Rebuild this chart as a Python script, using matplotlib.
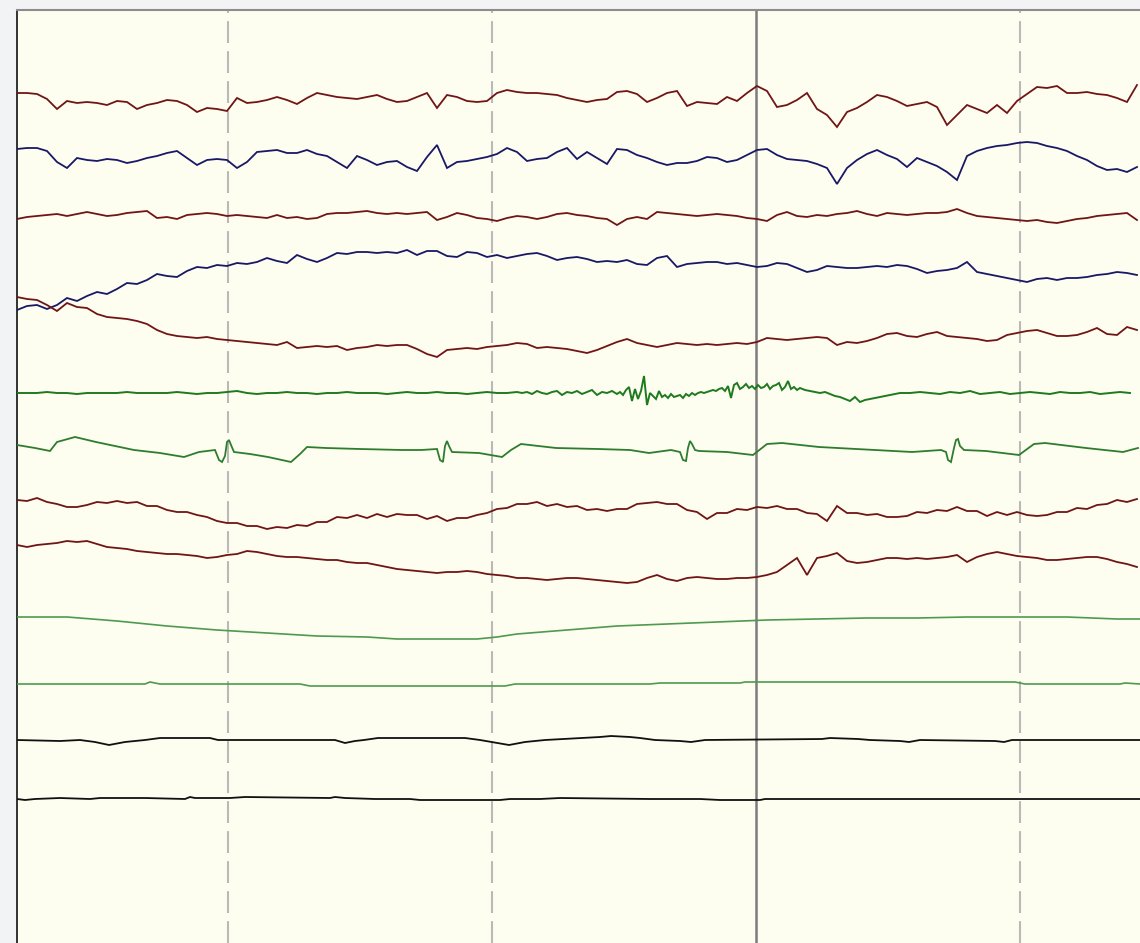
import numpy as np
import matplotlib
matplotlib.use("Agg")
import matplotlib.pyplot as plt

# ---------------- data (amplitudes, positive = up, arbitrary units) ----------------
FS = 264                      # samples per second (display)
STEP = 10

ch1 = [6,6,5,0,-10,-2,-4,-3,-4,-6, -2,-3,-10,-6,-4,-1,-2,-6,-13,-9,
       -10,-12,1,-4,-3,-1,2,-1,-5,1, 6,4,2,1,0,2,4,0,-3,-2,
       2,6,-9,4,2,-2,-3,-2,6,9, 7,6,6,5,4,1,-1,-3,-1,0,
       7,8,5,-3,1,6,8,-7,-3,-4, -5,2,-2,6,13,8,-8,-6,-1,6,
       -10,-16,-28,-13,-9,-3,4,2,-2,-7, -5,-3,-8,-26,-16,-6,-10,-14,-6,-14,
       -2,5,12,11,13,6,6,7,5,4, 1,-3,14]
ch2 = [6,7,7,4,-7,-13,-3,-5,-6,-4, -5,-8,-6,-3,-1,2,4,-3,-10,-5,
       -4,-5,-13,-7,3,4,5,2,2,5, 1,-1,-7,-13,-1,-5,-10,-7,-6,-12,
       -16,-2,10,-13,-7,-6,-4,-2,1,7, 3,-6,-4,-3,3,7,-4,3,-3,-9,
       6,5,0,-3,-7,-10,-8,-8,-6,-2, -3,-7,-5,0,5,6,0,-4,-5,-6,
       -9,-13,-29,-13,-5,1,5,0,-4,-12, -3,-7,-11,-17,-25,-1,4,7,9,10,
       12,13,12,9,7,4,-1,-5,-11,-15, -14,-17,-12]
ch3 = [-3,-1,0,1,2,0,2,4,2,0, 1,3,4,5,-2,-1,-3,1,2,3,
       2,0,1,0,-1,-2,1,-2,-1,-3, -2,2,3,3,4,5,3,2,3,2,
       3,4,-4,-1,3,1,-2,-3,-5,-2, 0,-1,-3,-1,2,3,1,0,-2,-3,
       -9,-3,-1,-3,4,3,2,1,0,1, 2,1,0,-2,-3,-5,1,4,0,-1,
       1,0,2,3,5,2,0,3,2,1, 2,3,3,4,7,3,0,-1,-2,-3,
       -4,-5,-4,-6,-7,-5,-3,-2,0,1, 2,3,-4]
ch4 = [-45,-41,-40,-44,-40,-33,-36,-31,-27,-29, -24,-18,-19,-15,-9,-11,-12,-6,-2,-3,
       0,-1,2,1,3,7,4,2,10,6, 3,7,12,11,13,13,12,13,12,15,
       10,14,14,9,8,13,12,8,10,7, 9,11,12,9,5,7,8,6,3,4,
       3,5,1,0,7,9,-2,1,2,3, 3,1,2,0,-2,-1,2,1,-3,-7,
       -5,-1,-2,-3,-3,-2,-1,-2,0,-1, -4,-8,-6,-5,-3,3,-7,-9,-11,-13,
       -15,-17,-14,-13,-15,-13,-13,-12,-10,-9, -7,-8,-10]
ch5 = [38,36,35,30,24,32,28,27,21,18, 17,16,14,11,5,1,-1,-2,-3,-2,
       -4,-5,-6,-7,-8,-9,-10,-7,-13,-12, -11,-12,-11,-15,-13,-12,-10,-11,-10,-10,
       -14,-19,-22,-15,-14,-13,-14,-12,-11,-10, -8,-9,-13,-12,-13,-14,-16,-18,-15,-11,
       -7,-4,-8,-10,-12,-10,-8,-9,-10,-9, -10,-9,-8,-9,-7,-3,-4,-5,-4,-3,
       -2,-3,-10,-7,-8,-6,-3,1,2,-1, -2,1,3,-1,-2,-3,-4,-6,-5,0,
       2,4,5,2,-1,-1,0,3,7,1, 0,8,5]
# ch6: segments of (start sample, step, values)
ch6 = [
    (0, 10, [0,0,0,1,0,0,-1,0,0,0,0,1,0,0,0,0,1,0,-1,0,0,1,2,0,-1,0,0,1,0,0,
             -1,0,0,1,0,0,0,-1,0,1,0,0,1,0,0,-1,0,1,0,0,1]),
    (505, 5, [0,1,-1,2,0,-1,1,2,-2,1,0,2,-1,1,3,-2,1,0,2,-1]),
    (603, 3, [1,-2,3,6,-8,4,-6,2,17,-12,0,-3,-6,2,-4,-2,-5,-1,-4,-3,-2,-5,-1,-3,0,-2,0]),
    (684, 3, [1,0,1,2,3,2,4,5,2,7,-5,8,10,4,6,9,5,7,4,8,5,6,9,4,7,8,10,3,6,12,4,6,3,5]),
    (788, 5, [3,2,1,0,1,-1,-3,-4,-6,-8,-4,-9,-7,-6,-5,-4,-3,-2,-1,0]),
    (893, 10, [0,1,0,-1,1,0,2,-1,0,1,-1,0,1,0,-1,1,0,0,1,-1,0,1,0]),
]
ecg_t = [0,18,33,40,58,79,117,143,167,182,198,202,205,208,210,212,214,217,233,251,274,283,290,
         309,343,385,404,420,423,426,428,430,432,435,462,485,494,504,539,581,613,632,654,663,
         666,669,671,673,675,678,682,710,736,750,765,802,858,895,924,929,931,934,937,939,941,
         943,947,969,1002,1017,1028,1069,1106,1121]
ecg_v = [5,2,-1,8,13,8,0,-3,-7,-2,0,-10,-12,-6,8,10,5,-2,-4,-7,-12,-4,3,
         2,1,0,0,1,-10,-12,4,9,4,-2,-3,-7,0,6,2,1,0,-3,0,-2,
         -10,-11,2,9,6,0,-1,-2,-5,6,7,3,0,-2,0,-2,-10,-12,2,10,11,
         4,0,-1,-5,6,7,2,-2,2]
ch8 = [10,9,12,8,6,3,3,5,8,7, 9,7,8,4,4,0,-2,-2,-5,-7,
       -11,-13,-13,-16,-16,-19,-17,-18,-15,-16, -12,-12,-7,-8,-5,-8,-4,-7,-4,-5,
       -5,-9,-6,-11,-8,-8,-5,-3,1,2, 6,6,8,4,6,3,4,0,1,-1,
       1,1,6,7,8,6,6,0,-2,-9, -3,-3,1,0,3,2,4,1,1,-3,
       -4,-11,4,-3,-3,-5,-4,-7,-7,-6, -2,-3,0,-1,3,-1,-1,-6,-2,-5,
       -2,-5,-6,-5,-2,-2,2,1,5,6, 10,8,11]
ch9 = [15,13,15,16,17,19,18,19,16,13, 12,11,9,8,7,6,6,5,4,2,
       3,5,6,9,8,6,4,3,3,2, 1,0,0,-2,-3,-3,-5,-7,-9,-10,
       -11,-12,-13,-12,-12,-11,-12,-14,-15,-16, -18,-18,-19,-20,-19,-18,-18,-19,-20,-21,
       -22,-23,-22,-18,-15,-19,-21,-18,-17,-18, -19,-19,-18,-18,-17,-15,-12,-5,2,-15,
       2,4,7,-1,-3,-2,0,2,2,1, 2,1,2,3,5,-2,3,6,8,6,
       4,3,2,0,0,1,2,3,3,1, -2,-4,-7]
ch10_t = [0,50,100,150,200,250,300,350,380,460,480,500,550,600,650,700,750,800,850,900,950,1000,1050,1100,1123]
ch10_v = [1,1,-3,-8,-12,-15,-18,-19,-21,-21,-19,-16,-12,-8,-6,-4,-2,-1,0,0,1,1,1,-1,-1]
ch11_t = [0,128,133,143,283,293,488,498,633,643,723,728,998,1008,1103,1108,1123]
ch11_v = [0,0,2,0,0,-2,-2,0,0,1,1,2,2,0,0,1,0]
ch12_t = [0,43,63,78,92,108,128,143,193,201,318,328,338,347,361,448,463,492,508,528,583,594,
          613,623,638,663,674,688,805,813,841,853,883,892,903,978,987,995,1123]
ch12_v = [0,-1,0,-2,-5,-2,0,2,2,0,0,-3,-1,0,2,2,0,-5,-2,0,3,4,
          3,2,0,-1,-2,0,1,2,1,0,-1,-2,0,-1,-2,0,0]
ch13_t = [0,8,18,43,73,83,128,168,173,178,213,228,313,318,328,358,393,403,483,493,523,543,
          633,683,703,743,748,1123]
ch13_v = [0,-1,0,1,0,1,1,0,2,1,1,2,1,2,1,0,0,-1,-1,0,0,1,0,0,-1,-1,0,0]

grid_seconds = [0.8, 1.8, 2.8, 3.8]
marker_second = 2.8            # solid cursor line

# ---------------- layout / style ----------------
W, H = 1140, 943
fig = plt.figure(figsize=(W / 100, H / 100), dpi=100, facecolor="#F2F3F4")
ax = fig.add_axes([17 / W, 0, (W - 17) / W, (H - 10) / H])
ax.set_facecolor("#FDFDF0")
ax.set_xlim(0, W - 17)
ax.set_ylim(H, 10)
ax.set_xticks([]); ax.set_yticks([])
for s in ("right", "bottom"):
    ax.spines[s].set_visible(False)
ax.spines["left"].set_color("#111111"); ax.spines["left"].set_linewidth(1.2)
ax.spines["top"].set_color("#8c8c8c"); ax.spines["top"].set_linewidth(1.5)

RED, NAVY, BLACK = "#701515", "#181866", "#101010"
GREEN_D, GREEN_M, GREEN_L = "#1F7A1F", "#2E7D2E", "#4E9A4E"

# gridlines
for g in grid_seconds:
    if abs(g - marker_second) < 1e-9:
        ax.axvline(g * FS, color="#7c7c7c", lw=1.8, zorder=1)
    else:
        ax.axvline(g * FS, color="#b9b9b9", lw=1.5, ls=(0, (10.5, 3.9)), zorder=1)

LW = 1.3

def uniform(vals):
    return np.arange(len(vals)) * STEP, np.asarray(vals, float)

def plot_ch(t, v, base, color, lw=LW):
    ax.plot(t, base - np.asarray(v, float), color=color, lw=lw, zorder=3,
            solid_joinstyle="miter")

for vals, base, col in [(ch1, 99, RED), (ch2, 155, NAVY), (ch3, 216, RED),
                        (ch4, 265, NAVY), (ch5, 335, RED),
                        (ch8, 510, RED), (ch9, 560, RED)]:
    t, v = uniform(vals)
    plot_ch(t, v, base, col)

t6 = np.concatenate([start + step * np.arange(len(v)) for start, step, v in ch6])
v6 = np.concatenate([np.asarray(v, float) for _, _, v in ch6])
plot_ch(t6, v6, 393, GREEN_D, lw=1.4)
plot_ch(ecg_t, ecg_v, 450, GREEN_M)
plot_ch(ch10_t, ch10_v, 618, GREEN_L, lw=1.2)
plot_ch(ch11_t, ch11_v, 684, GREEN_L, lw=1.2)
plot_ch(ch12_t, ch12_v, 740, BLACK)
plot_ch(ch13_t, ch13_v, 799, BLACK)

fig.savefig("out.png", dpi=100, facecolor=fig.get_facecolor())
